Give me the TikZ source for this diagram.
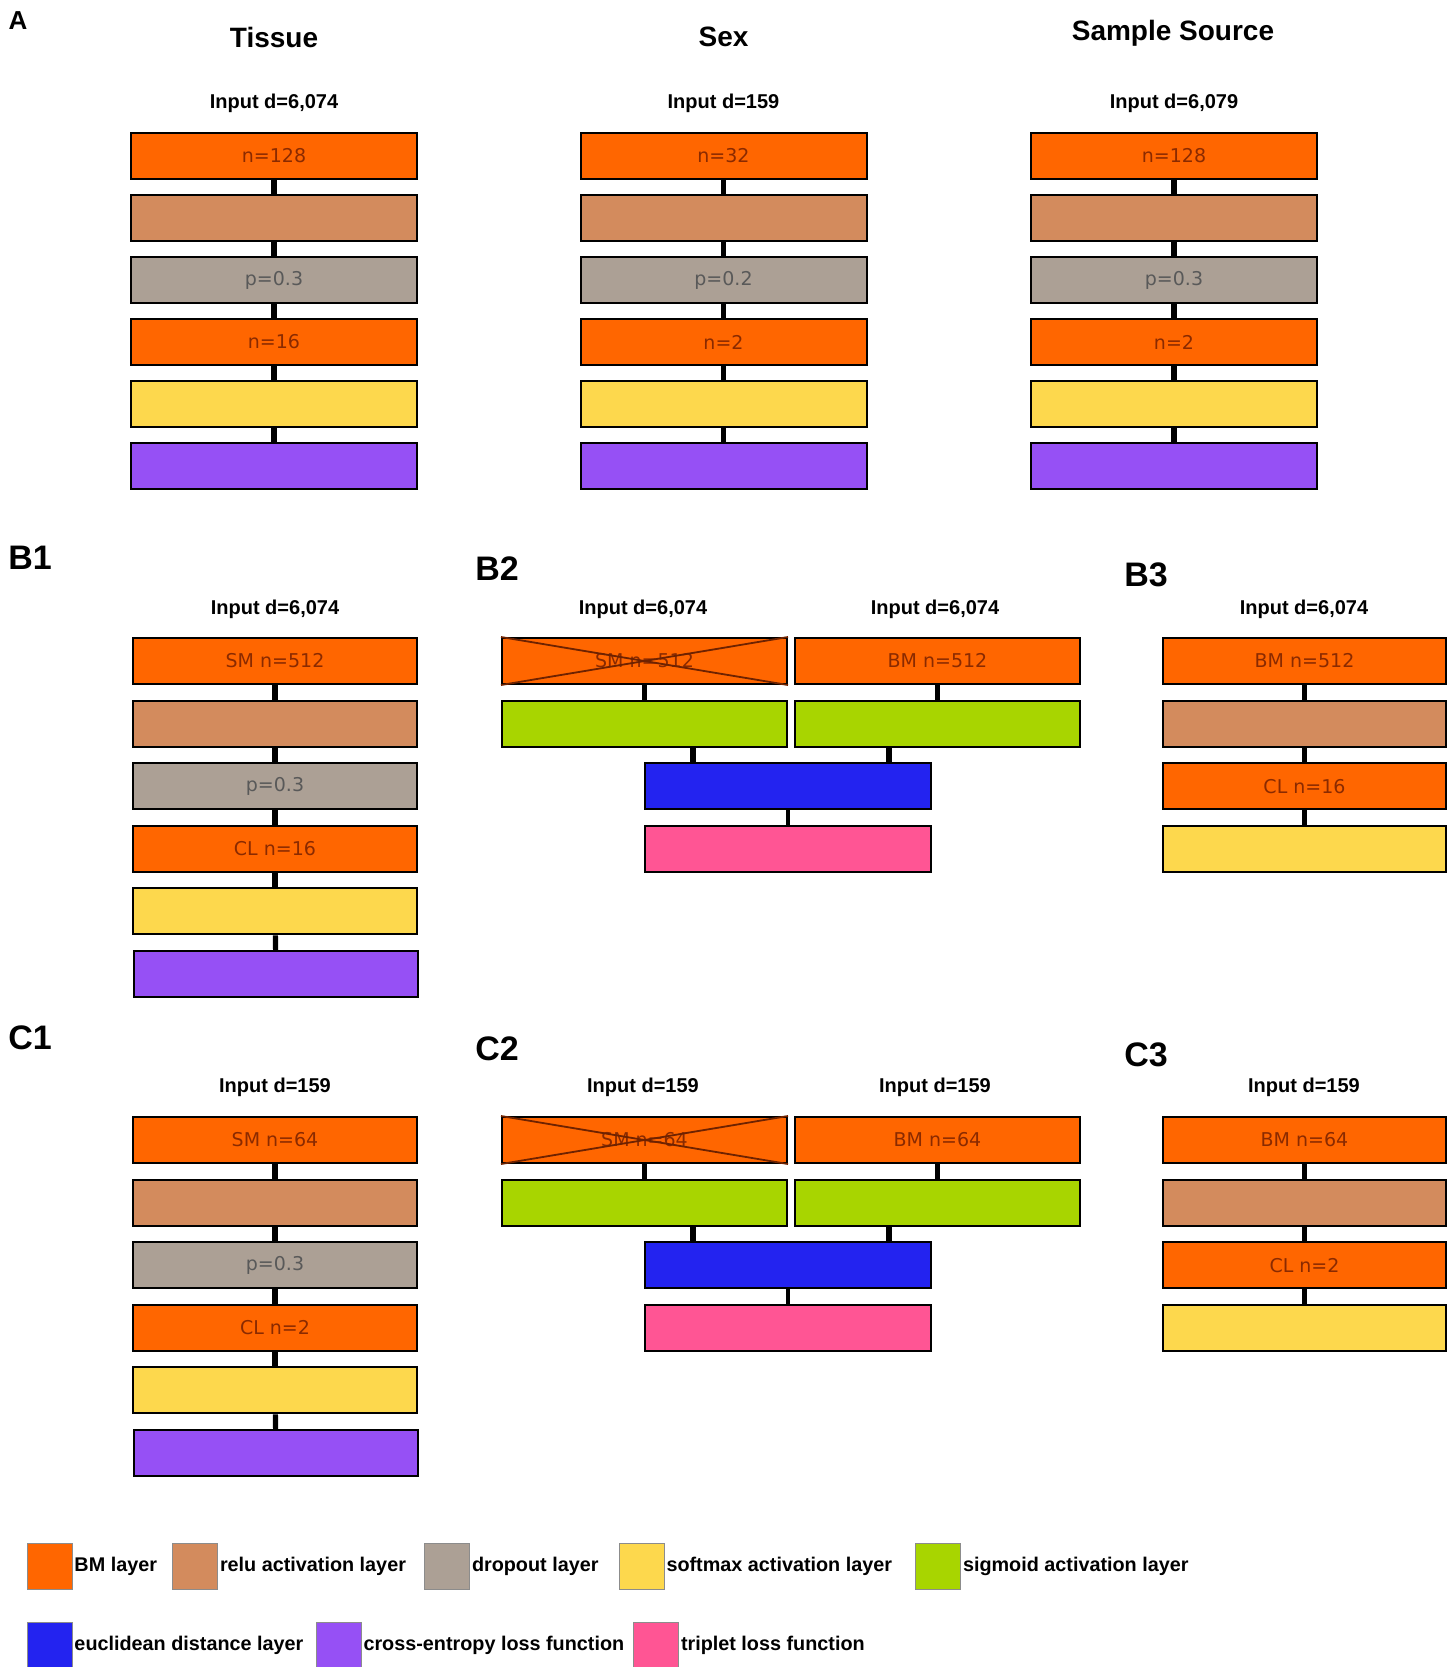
\documentclass[tikz,border=0pt]{standalone}
\usepackage{fontspec}
\setmainfont{Liberation Sans}
\newfontfamily\lblfont{DejaVu Sans}
\definecolor{cBM}{HTML}{FF6600}
\definecolor{cRelu}{HTML}{D38B5D}
\definecolor{cDrop}{HTML}{ACA095}
\definecolor{cSoft}{HTML}{FDD84D}
\definecolor{cSig}{HTML}{A8D500}
\definecolor{cEuc}{HTML}{2323F0}
\definecolor{cCE}{HTML}{9650F5}
\definecolor{cTrip}{HTML}{FF5594}
\definecolor{cTxt}{HTML}{8A2A00}
\begin{document}
\begin{tikzpicture}[x=0.5pt,y=-0.5pt,
  box/.style={draw=black, line width=1pt, minimum height=23pt, inner sep=0pt,
    font=\lblfont\fontsize{9.5}{11}\selectfont, text=cTxt},
  wA/.style={minimum width=143pt},
  wB/.style={minimum width=142pt},
  bm/.style={box, fill=cBM},
  relu/.style={box, fill=cRelu},
  drop/.style={box, fill=cDrop, text=black!65},
  soft/.style={box, fill=cSoft},
  ce/.style={box, fill=cCE},
  sig/.style={box, fill=cSig},
  euc/.style={box, fill=cEuc},
  trip/.style={box, fill=cTrip},
  conn/.style={line width=2.6pt},
  xline/.style={draw=cTxt!80!black, line width=0.9pt},
  title/.style={font=\bfseries\fontsize{14}{16}\selectfont},
  inp/.style={font=\bfseries\fontsize{10}{12}\selectfont},
  panel/.style={font=\bfseries\fontsize{17}{19}\selectfont},
  legsq/.style={draw=black!45, line width=0.5pt, minimum width=22.5pt, minimum height=23pt, inner sep=0pt},
  legtx/.style={font=\bfseries\fontsize{9.9}{12}\selectfont, anchor=west, inner sep=0.8pt}
]
\fill[white] (0,0) rectangle (1453,1667);
\useasboundingbox (0,0) rectangle (1453,1667);

% ---------------- Panel A ----------------
\node[panel, font=\bfseries\fontsize{13}{15}\selectfont] (labA) at (18,21) {A};

\node[title] (tTis) at (274,37) {Tissue};
\node[inp] (iTis) at (274,103) {Input d=6,074};
\node[bm,wA]   (t1) at (274,156) {n=128};
\node[relu,wA] (t2) at (274,218) {};
\node[drop,wA] (t3) at (274,280) {p=0.3};
\node[bm,wA]   (t4) at (274,342) {n=16};
\node[soft,wA] (t5) at (274,404) {};
\node[ce,wA]   (t6) at (274,466) {};

\node[title] (tSex) at (723.5,37) {Sex};
\node[inp] (iSex) at (723.5,103) {Input d=159};
\node[bm,wA]   (s1) at (723.5,156) {n=32};
\node[relu,wA] (s2) at (723.5,218) {};
\node[drop,wA] (s3) at (723.5,280) {p=0.2};
\node[bm,wA]   (s4) at (723.5,342) {n=2};
\node[soft,wA] (s5) at (723.5,404) {};
\node[ce,wA]   (s6) at (723.5,466) {};

\node[title] (tSS) at (1173,33) {Sample Source};
\node[inp] (iSS) at (1174,103) {Input d=6,079};
\node[bm,wA]   (u1) at (1174,156) {n=128};
\node[relu,wA] (u2) at (1174,218) {};
\node[drop,wA] (u3) at (1174,280) {p=0.3};
\node[bm,wA]   (u4) at (1174,342) {n=2};
\node[soft,wA] (u5) at (1174,404) {};
\node[ce,wA]   (u6) at (1174,466) {};

\foreach \p in {t,s,u}{
  \foreach \i/\j in {1/2,2/3,3/4,4/5,5/6}{
    \draw[conn] (\p\i) -- (\p\j);
  }
}

% ---------------- Panel B1 ----------------
\node[panel] (labB1) at (30,558) {B1};
\node[inp] (iB1) at (275,609) {Input d=6,074};
\node[bm,wB]   (ba1) at (275,661) {SM n=512};
\node[relu,wB] (ba2) at (275,723.6) {};
\node[drop,wB] (ba3) at (275,786.2) {p=0.3};
\node[bm,wB]   (ba4) at (275,848.8) {CL n=16};
\node[soft,wB] (ba5) at (275,911.4) {};
\node[ce,wB]   (ba6) at (276,974) {};
\foreach \i/\j in {1/2,2/3,3/4,4/5,5/6}{ \draw[conn] (ba\i) -- (ba\j); }

% ---------------- Panel B2 ----------------
\node[panel] (labB2) at (497,569) {B2};
\node[inp] (iB2l) at (643,609) {Input d=6,074};
\node[inp] (iB2r) at (935,609) {Input d=6,074};
\node[bm,minimum width=142.5pt] (bl1) at (644.5,661) {SM n=512};
\node[bm,minimum width=142.5pt] (br1) at (937.5,661) {BM n=512};
\draw[xline] (bl1.north west) -- (bl1.south east);
\draw[xline] (bl1.south west) -- (bl1.north east);
\node[sig,minimum width=142.5pt] (bl2) at (644.5,723.6) {};
\node[sig,minimum width=142.5pt] (br2) at (937.5,723.6) {};
\node[euc,minimum width=143pt] (beu) at (788,786.2) {};
\node[trip,minimum width=143pt] (btr) at (788,848.8) {};
\coordinate (bxl) at (693,0);
\coordinate (bxr) at (889,0);
\draw[conn] (bl1) -- (bl2);
\draw[conn] (br1) -- (br2);
\draw[conn] (bl2.south -| bxl) -- (beu.north -| bxl);
\draw[conn] (br2.south -| bxr) -- (beu.north -| bxr);
\draw[conn, line width=1.8pt] (beu) -- (btr);

% ---------------- Panel B3 ----------------
\node[panel] (labB3) at (1146,575) {B3};
\node[inp] (iB3) at (1304,609) {Input d=6,074};
\node[bm,minimum width=141.5pt]   (bc1) at (1304.5,661) {BM n=512};
\node[relu,minimum width=141.5pt] (bc2) at (1304.5,723.6) {};
\node[bm,minimum width=141.5pt]   (bc3) at (1304.5,786.2) {CL n=16};
\node[soft,minimum width=141.5pt] (bc4) at (1304.5,848.8) {};
\foreach \i/\j in {1/2,2/3,3/4}{ \draw[conn] (bc\i) -- (bc\j); }

% ---------------- Panel C1 ----------------
\node[panel] (labC1) at (30,1038) {C1};
\node[inp] (iC1) at (275,1087) {Input d=159};
\node[bm,wB]   (ca1) at (275,1140) {SM n=64};
\node[relu,wB] (ca2) at (275,1202.6) {};
\node[drop,wB] (ca3) at (275,1265.2) {p=0.3};
\node[bm,wB]   (ca4) at (275,1327.8) {CL n=2};
\node[soft,wB] (ca5) at (275,1390.4) {};
\node[ce,wB]   (ca6) at (276,1453) {};
\foreach \i/\j in {1/2,2/3,3/4,4/5,5/6}{ \draw[conn] (ca\i) -- (ca\j); }

% ---------------- Panel C2 ----------------
\node[panel] (labC2) at (497,1049) {C2};
\node[inp] (iC2l) at (643,1087) {Input d=159};
\node[inp] (iC2r) at (935,1087) {Input d=159};
\node[bm,minimum width=142.5pt] (cl1) at (644.5,1140) {SM n=64};
\node[bm,minimum width=142.5pt] (cr1) at (937.5,1140) {BM n=64};
\draw[xline] (cl1.north west) -- (cl1.south east);
\draw[xline] (cl1.south west) -- (cl1.north east);
\node[sig,minimum width=142.5pt] (cl2) at (644.5,1202.6) {};
\node[sig,minimum width=142.5pt] (cr2) at (937.5,1202.6) {};
\node[euc,minimum width=143pt] (ceu) at (788,1265.2) {};
\node[trip,minimum width=143pt] (ctr) at (788,1327.8) {};
\draw[conn] (cl1) -- (cl2);
\draw[conn] (cr1) -- (cr2);
\draw[conn] (cl2.south -| bxl) -- (ceu.north -| bxl);
\draw[conn] (cr2.south -| bxr) -- (ceu.north -| bxr);
\draw[conn, line width=1.8pt] (ceu) -- (ctr);

% ---------------- Panel C3 ----------------
\node[panel] (labC3) at (1146,1055) {C3};
\node[inp] (iC3) at (1304,1087) {Input d=159};
\node[bm,minimum width=141.5pt]   (cc1) at (1304.5,1140) {BM n=64};
\node[relu,minimum width=141.5pt] (cc2) at (1304.5,1202.6) {};
\node[bm,minimum width=141.5pt]   (cc3) at (1304.5,1265.2) {CL n=2};
\node[soft,minimum width=141.5pt] (cc4) at (1304.5,1327.8) {};
\foreach \i/\j in {1/2,2/3,3/4}{ \draw[conn] (cc\i) -- (cc\j); }

% ---------------- Legend ----------------
\node[legsq, fill=cBM]   (lg1) at (49.5,1566) {};
\node[legtx] (lt1) at (lg1.east) {BM layer};
\node[legsq, fill=cRelu] (lg2) at (195,1566) {};
\node[legtx] (lt2) at (lg2.east) {relu activation layer};
\node[legsq, fill=cDrop] (lg3) at (447,1566) {};
\node[legtx] (lt3) at (lg3.east) {dropout layer};
\node[legsq, fill=cSoft] (lg4) at (641.5,1566) {};
\node[legtx] (lt4) at (lg4.east) {softmax activation layer};
\node[legsq, fill=cSig]  (lg5) at (938,1566) {};
\node[legtx] (lt5) at (lg5.east) {sigmoid activation layer};
\node[legsq, fill=cEuc]  (lg6) at (49.5,1645) {};
\node[legtx] (lt6) at (lg6.east) {euclidean distance layer};
\node[legsq, fill=cCE]   (lg7) at (338.5,1645) {};
\node[legtx] (lt7) at (lg7.east) {cross-entropy loss function};
\node[legsq, fill=cTrip] (lg8) at (656,1645) {};
\node[legtx] (lt8) at (lg8.east) {triplet loss function};
\end{tikzpicture}
\end{document}
